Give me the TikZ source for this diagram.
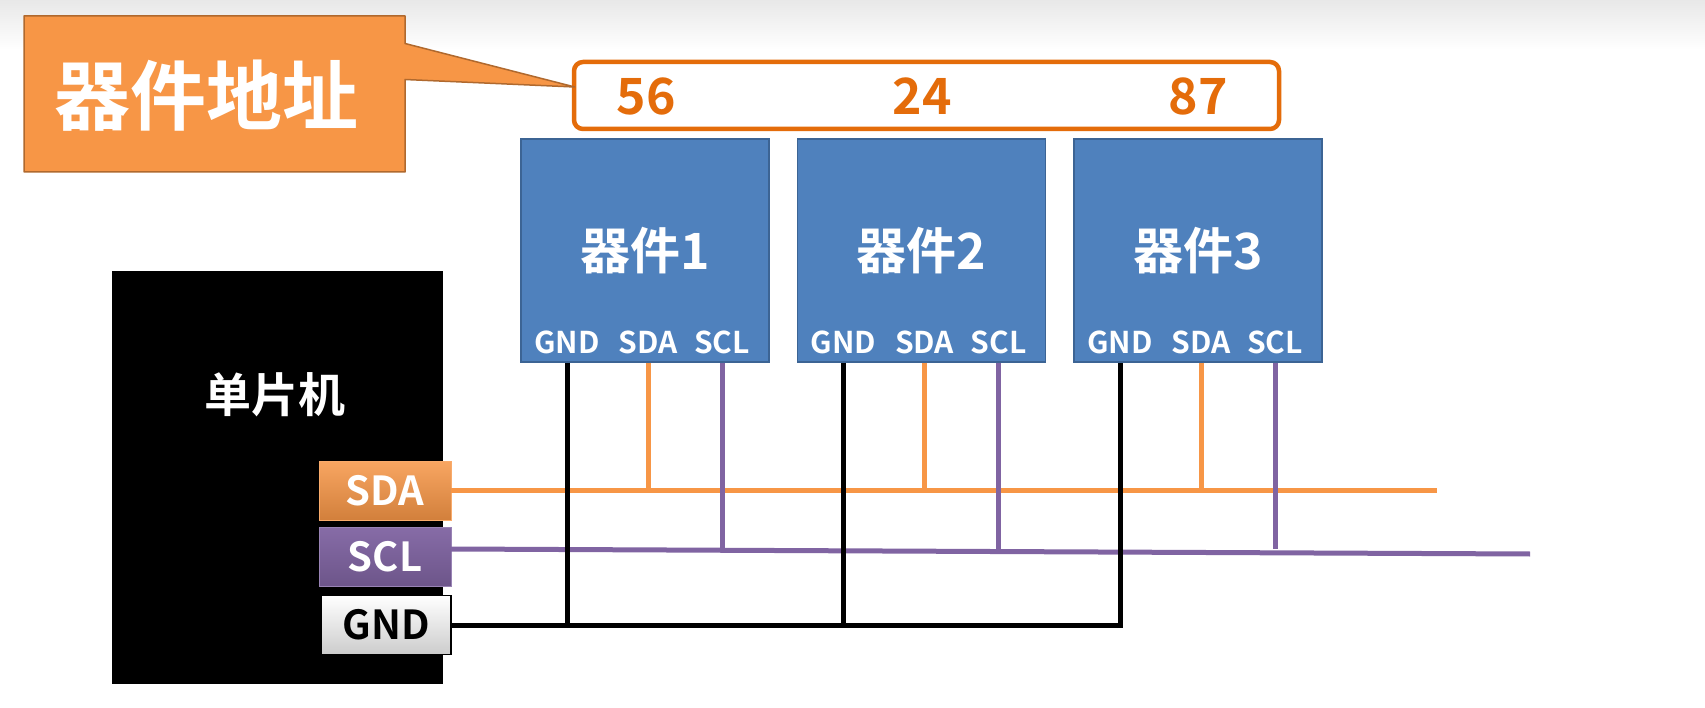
\documentclass[tikz,border=0pt]{standalone}
\usepackage{fontspec}
\setmainfont{Noto Sans CJK SC}[BoldFont={Noto Sans CJK SC Bold}]
\usepackage{xcolor}
\definecolor{calloutbg}{HTML}{F79646}
\definecolor{calloutedge}{HTML}{B0692E}
\definecolor{addrorange}{HTML}{E46C0A}
\definecolor{devblue}{HTML}{4F81BD}
\definecolor{devedge}{HTML}{3C6494}
\definecolor{sdaorange}{HTML}{F79646}
\definecolor{sclpurple}{HTML}{8064A2}
\usetikzlibrary{calc}

\newcommand{\fsz}[1]{\fontsize{#1}{#1}\selectfont\bfseries}

\begin{document}
\begin{tikzpicture}[x=1pt, y=-1pt,
  callout/.style={fill=calloutbg, draw=calloutedge, line width=1.5pt, line join=round},
  bigtext/.style={text=white, font=\fsz{76}},
  addrbox/.style={draw=addrorange, line width=4.5pt, rounded corners=9pt, fill=white,
                  minimum width=705pt, minimum height=67pt},
  addrnum/.style={text=addrorange, font=\fsz{50}, inner sep=0pt},
  device/.style={draw=devedge, line width=1.5pt, fill=devblue,
                 minimum width=248pt, minimum height=223pt,
                 text=white, font=\fsz{50}},
  pinname/.style={text=white, font=\fsz{30}, inner sep=0pt},
  mcu/.style={fill=black, minimum width=331pt, minimum height=413pt, inner sep=0pt},
  mcuname/.style={text=white, font=\fsz{47}},
  buspin/.style={minimum width=132pt, minimum height=59pt, inner sep=0pt, font=\fsz{40}},
  sdawire/.style={draw=sdaorange, line width=5pt},
  sclwire/.style={draw=sclpurple, line width=5pt},
  gndwire/.style={draw=black, line width=5pt},
]
% Page
\fill[white] (0,0) rectangle (1705,708);
\shade[top color=black!9, bottom color=white] (0,0) rectangle (1705,50);
\useasboundingbox (0,0) rectangle (1705,708);

% Address row
\node[addrbox] (addr) at (926.5,95.5) {};
\node[addrnum] (a1) at (646,96) {56};
\node[addrnum] (a2) at (922,96) {24};
\node[addrnum] (a3) at (1198,96) {87};

% Callout
\coordinate (co-nw) at (24,16);
\coordinate (co-se) at (405,172);
\coordinate (co-a) at (405,43.5);
\coordinate (co-b) at (405,79.5);
\filldraw[callout] (co-nw) -- (co-se |- co-nw) -- (co-a)
  -- ($(addr.west)+(3,-8.5)$) -- (co-b) -- (co-se) -- (co-nw |- co-se) -- cycle;
\node[bigtext] (title) at ($(co-nw)!0.5!(co-se)+(-8,2)$) {器件地址};

% Devices
\node[device] (d1) at (645,250.5) {器件1};
\node[device] (d2) at (921.5,250.5) {器件2};
\node[device] (d3) at (1198,250.5) {器件3};

\node[pinname] (d1gnd) at (567,342.5) {GND};
\node[pinname] (d1sda) at (648,342.5) {SDA};
\node[pinname] (d1scl) at (722,342.5) {SCL};
\node[pinname] (d2gnd) at (843.5,342.5) {GND};
\node[pinname] (d2sda) at (924.5,342.5) {SDA};
\node[pinname] (d2scl) at (998.5,342.5) {SCL};
\node[pinname] (d3gnd) at (1120,342.5) {GND};
\node[pinname] (d3sda) at (1201,342.5) {SDA};
\node[pinname] (d3scl) at (1275,342.5) {SCL};

% MCU
\node[mcu] (mcu) at (277.5,477.5) {};
\node[mcuname] (mcutxt) at (275,395) {单片机};
\node[buspin, top color=sdaorange!85!white, bottom color=sdaorange!85!black,
      draw=sdaorange!80!white, text=white] (sdapin) at (385,490.5) {SDA};
\node[buspin, top color=sclpurple!95!white, bottom color=sclpurple!85!black,
      draw=sclpurple!80!white, text=white] (sclpin) at (385,557) {SCL};
\node[buspin, minimum width=130pt, top color=white, bottom color=black!20,
      draw=black, line width=1.5pt] (gndpin) at (386,625) {GND};

% Bus lines
\coordinate (sdaend) at (1437,490.5);
\coordinate (sclbus) at ([yshift=8pt]sclpin.east);
\coordinate (sclend) at (1530,554);
\draw[sdawire] (sdapin.east) -- (sdaend);
\draw[sclwire] (sclbus) -- (sclend);

% Device wires
\draw[sdawire] (d1sda |- d1.south) -- (d1sda |- sdapin.east);
\draw[sdawire] (d2sda |- d2.south) -- (d2sda |- sdapin.east);
\draw[sdawire] (d3sda |- d3.south) -- (d3sda |- sdapin.east);
\draw[sclwire] (d1scl |- d1.south) -- (d1scl |- sclbus);
\draw[sclwire] (d2scl |- d2.south) -- (d2scl |- sclbus);
\draw[sclwire] (d3scl |- d3.south) -- (d3scl |- sclbus);
\draw[gndwire] (d1gnd |- d1.south) -- (d1gnd |- gndpin.east);
\draw[gndwire] (d2gnd |- d2.south) -- (d2gnd |- gndpin.east);
\draw[gndwire] (gndpin.east) -- (d3gnd |- gndpin.east) -- (d3gnd |- d3.south);
\end{tikzpicture}
\end{document}
